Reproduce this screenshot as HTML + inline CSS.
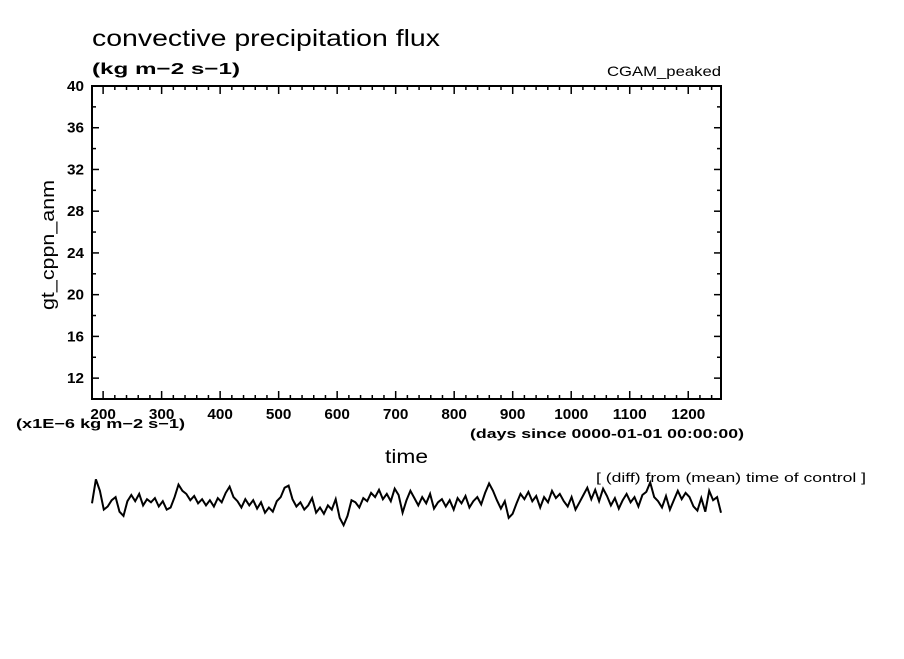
<!DOCTYPE html>
<html><head><meta charset="utf-8"><style>
body{margin:0;background:#fff;}
svg text{font-family:"Liberation Sans",sans-serif;fill:#000;}
</style></head><body>
<svg id="chart" width="904" height="654" xmlns="http://www.w3.org/2000/svg">
<text x="92" y="46" font-size="23" textLength="348" lengthAdjust="spacingAndGlyphs">convective precipitation flux</text>
<text x="92" y="74" font-size="16" font-weight="bold" textLength="148" lengthAdjust="spacingAndGlyphs">(kg m−2 s−1)</text>
<text x="607" y="76" font-size="14" textLength="114" lengthAdjust="spacingAndGlyphs">CGAM_peaked</text>
<text transform="translate(54,310) rotate(-90)" font-size="18" textLength="130" lengthAdjust="spacingAndGlyphs">gt_cppn_anm</text>
<text x="16" y="428" font-size="13" font-weight="bold" textLength="169" lengthAdjust="spacingAndGlyphs">(x1E−6 kg m−2 s−1)</text>
<text x="470" y="438" font-size="13" font-weight="bold" textLength="274" lengthAdjust="spacingAndGlyphs">(days since 0000-01-01 00:00:00)</text>
<text x="385" y="463" font-size="19" textLength="43" lengthAdjust="spacingAndGlyphs">time</text>
<text x="596" y="482" font-size="13" textLength="270" lengthAdjust="spacingAndGlyphs">[ (diff) from (mean) time of control ]</text>
<g id="axes"></g>
<path id="line" fill="none" stroke="#000" stroke-width="2"/>
<rect x="92" y="86" width="629" height="313" fill="none" stroke="#000" stroke-width="2"/>
</svg>
<script>
const xTicks=[200,300,400,500,600,700,800,900,1000,1100,1200];
const yTicks=[12,16,20,24,28,32,36,40];
const values=[0,2.3,1.2,-0.6,-0.3,0.3,0.6,-0.8,-1.2,0.2,
0.8,0.2,0.9,-0.2,0.4,0.1,0.5,-0.3,0.2,-0.6,
-0.4,0.6,1.8,1.2,0.9,0.3,0.7,0.0,0.4,-0.2,
0.3,-0.3,0.5,0.1,1.0,1.6,0.6,0.2,-0.4,0.4,
-0.2,0.3,-0.5,0.1,-0.9,-0.4,-0.8,0.2,0.6,1.5,
1.7,0.4,-0.3,0.1,-0.6,-0.2,0.5,-0.9,-0.4,-1.0,
-0.2,-0.6,0.4,-1.4,-2.1,-1.2,0.3,0.1,-0.4,0.5,
0.2,1.0,0.6,1.3,0.4,0.9,0.2,1.4,0.8,-0.9,
0.3,1.2,0.5,-0.2,0.6,0.0,0.9,-0.5,0.1,0.4,
-0.3,0.3,-0.6,0.5,0.0,0.7,-0.4,0.2,0.6,-0.1,
1.0,1.9,1.2,0.3,-0.5,0.2,-1.4,-1.0,0.0,0.9,
0.4,1.1,0.2,0.7,-0.4,0.6,0.1,1.2,0.5,0.9,
0.2,-0.3,0.6,-0.6,0.1,0.8,1.5,0.4,1.3,0.2,
1.4,0.7,-0.2,0.5,-0.5,0.3,0.9,0.1,0.6,-0.3,
0.8,1.1,2.0,0.6,0.2,-0.4,0.7,-0.6,0.3,1.2,
0.4,1.0,0.6,-0.3,-0.7,0.5,-0.8,1.2,0.3,0.6,-0.9];
const xMin=181,xMax=1256,yMin=10,yMax=40;
const X0=92,X1=721,Y0=399,Y1=86;
const sx=v=>X0+(v-xMin)/(xMax-xMin)*(X1-X0);
const sy=v=>Y0-(v-yMin)/(yMax-yMin)*(Y0-Y1);
const NS="http://www.w3.org/2000/svg";
const g=document.getElementById('axes');
function ln(x1,y1,x2,y2,name){const l=document.createElementNS(NS,'line');
l.setAttribute('x1',x1);l.setAttribute('y1',y1);l.setAttribute('x2',x2);l.setAttribute('y2',y2);
l.setAttribute('stroke','#000');l.setAttribute('stroke-width','1.5');


g.appendChild(l);}
function tx(x,y,s,anchor,name){const t=document.createElementNS(NS,'text');
t.setAttribute('x',x);t.setAttribute('y',y);t.setAttribute('font-size','15');t.setAttribute('font-weight','bold');
t.setAttribute('text-anchor',anchor);t.setAttribute('textLength',String(s.length*8.5));t.setAttribute('lengthAdjust','spacingAndGlyphs');t.textContent=s;


g.appendChild(t);}
for(let v=200;v<=1240;v+=20){const x=sx(v);const maj=v%100===0;const L=maj?8:4;
ln(x,Y0,x,Y0-L,'x-tick');ln(x,Y1,x,Y1+L,'x-tick');}
xTicks.forEach(v=>tx(sx(v),419,String(v),'middle','x-tick-label'));
for(let v=12;v<=40;v+=2){const y=sy(v);const maj=v%4===0;const L=maj?7:4;
ln(X0,y,X0+L,y,'y-tick');ln(X1,y,X1-L,y,'y-tick');}
yTicks.forEach(v=>tx(84,sy(v)+5,String(v),'end','y-tick-label'));
const step=(xMax-xMin)/(values.length-1);
let d='';values.forEach((v,i)=>{d+=(i?'L':'M')+sx(xMin+i*step).toFixed(1)+','+sy(v).toFixed(1);});
document.getElementById('line').setAttribute('d',d);
</script>
</body></html>
